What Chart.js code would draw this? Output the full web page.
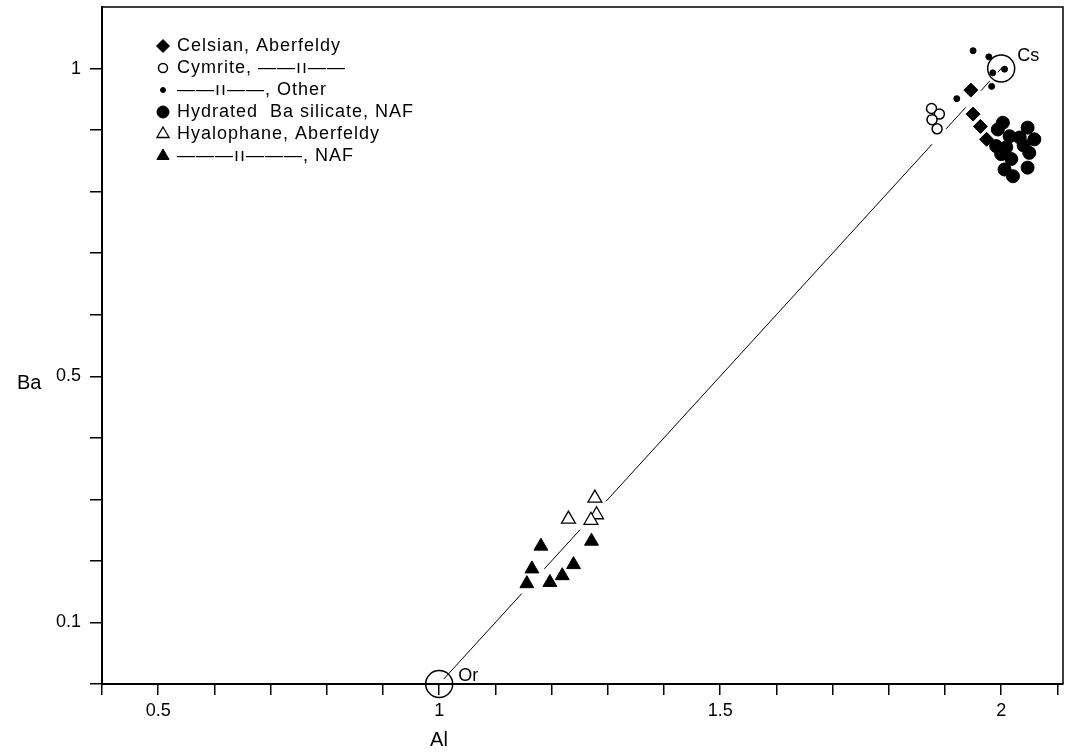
<!DOCTYPE html>
<html><head><meta charset="utf-8">
<script src="https://cdn.jsdelivr.net/npm/chart.js@4.4.1/dist/chart.umd.min.js"></script>
<style>html,body{margin:0;padding:0;background:#fff;}</style>
</head><body>
<canvas id="c" width="1065" height="756"></canvas>
<script>
// ---- data (Al, Ba) ----
const celsian = [[1.946,0.965],[1.950,0.926],[1.963,0.906],[1.974,0.885]];
const cymrite = [[1.876,0.935],[1.890,0.926],[1.877,0.917],[1.886,0.902]];
const other = [[1.950,1.029],[1.978,1.019],[2.006,0.999],[1.985,0.993],[1.983,0.971],[1.921,0.951]];
const hydrated = [[2.003,0.912],[1.994,0.901],[2.015,0.890],[2.033,0.888],[2.047,0.904],[2.059,0.885],
  [1.991,0.874],[2.009,0.872],[2.000,0.861],[2.018,0.853],[2.050,0.863],[2.006,0.836],[2.047,0.839],
  [2.021,0.825],[2.040,0.875]];
const hyalophane = [[1.277,0.302],[1.280,0.275],[1.270,0.266],[1.230,0.268]];
const nafHyalophane = [[1.181,0.224],[1.271,0.232],[1.165,0.187],[1.239,0.194],[1.219,0.176],[1.197,0.165],[1.156,0.163]];
const endMembers = [[1,0],[2,1]];
const endMemberNames = ['Or','Cs'];
// Or-Cs join, drawn in broken segments
const joinSegments = [[[1.008,0.008],[1.147,0.147]],[[1.187,0.187],[1.251,0.251]],[[1.297,0.297],[1.877,0.877]],
  [[1.902,0.902],[1.937,0.937]],[[1.964,0.964],[1.980,0.980]],[[1.994,0.994],[2.002,1.002]]];
const seriesLabels = ['Celsian, Aberfeldy','Cymrite, \u2014\u2014\u0131\u0131\u2014\u2014','\u2014\u2014\u0131\u0131\u2014\u2014, Other',
  'Hydrated  Ba silicate, NAF','Hyalophane, Aberfeldy','\u2014\u2014\u2014\u0131\u0131\u2014\u2014\u2014, NAF'];
const xTickValues = [0.4,0.5,0.6,0.7,0.8,0.9,1.0,1.1,1.2,1.3,1.4,1.5,1.6,1.7,1.8,1.9,2.0,2.1];
const xTickLabels = ['0.5','1','1.5','2'];
const yTickValues = [0,0.1,0.2,0.3,0.4,0.5,0.6,0.7,0.8,0.9,1.0];
const yTickLabels = ['0.1','0.5','1'];
const xTitle = 'Al', yTitle = 'Ba';

const FONT = '"Liberation Sans", Arial, Helvetica, sans-serif';
const pts = a => a.map(p => ({x:p[0], y:p[1]}));
const joinData = [];
joinSegments.forEach(s => { joinData.push({x:s[0][0],y:s[0][1]}); joinData.push({x:s[1][0],y:s[1][1]}); joinData.push({x:s[1][0],y:null}); });

function tickLabel(v, labels){
  for (const l of labels) if (Math.abs(parseFloat(l) - v) < 1e-6) return l;
  return '';
}

const ds = [
  {label:seriesLabels[0], data:pts(celsian), pointStyle:'rectRot', pointRadius:7, backgroundColor:'#000', borderColor:'#000', borderWidth:1, legendRadius:6.5},
  {label:seriesLabels[1], data:pts(cymrite), pointStyle:'circle', pointRadius:5, backgroundColor:'#fff', borderColor:'#000', borderWidth:1.5, legendRadius:4.5},
  {label:seriesLabels[2], data:pts(other), pointStyle:'circle', pointRadius:3, backgroundColor:'#000', borderColor:'#000', borderWidth:1, legendRadius:2.5},
  {label:seriesLabels[3], data:pts(hydrated), pointStyle:'circle', pointRadius:6.5, backgroundColor:'#000', borderColor:'#000', borderWidth:1, legendRadius:6},
  {label:seriesLabels[4], data:pts(hyalophane), pointStyle:'triangle', pointRadius:8, backgroundColor:'#fff', borderColor:'#000', borderWidth:1.3, legendRadius:7},
  {label:seriesLabels[5], data:pts(nafHyalophane), pointStyle:'triangle', pointRadius:8, backgroundColor:'#000', borderColor:'#000', borderWidth:1, legendRadius:7},
  {label:'', data:pts(endMembers), pointStyle:'circle', pointRadius:13.5, backgroundColor:'rgba(0,0,0,0)', borderColor:'#000', borderWidth:1.5, clip:false, noLegend:true},
  {label:'', type:'line', data:joinData, borderColor:'#000', borderWidth:1, pointRadius:0, spanGaps:false, showLine:true, fill:false, noLegend:true}
];

const overlay = {
  id:'overlay',
  afterDraw(chart){
    const ctx = chart.ctx, a = chart.chartArea, xs = chart.scales.x, ys = chart.scales.y;
    ctx.save();
    // frame top and right
    ctx.strokeStyle = '#000'; ctx.lineWidth = 1.5;
    ctx.beginPath(); ctx.moveTo(a.left, a.top); ctx.lineTo(a.right, a.top); ctx.lineTo(a.right, a.bottom); ctx.stroke();
    // end-member labels
    ctx.fillStyle = '#000'; ctx.textBaseline = 'middle'; ctx.textAlign = 'left';
    ctx.font = '18px ' + FONT;
    const offs = [[19,-8],[16,-13]];
    endMembers.forEach((p,i) => {
      ctx.fillText(endMemberNames[i], xs.getPixelForValue(p[0]) + offs[i][0], ys.getPixelForValue(p[1]) + offs[i][1]);
    });
    // axis titles
    ctx.font = '20px ' + FONT;
    ctx.textAlign = 'left'; ctx.fillText(yTitle, 17, 383);
    ctx.textAlign = 'center'; ctx.fillText(xTitle, 439, 740);
    ctx.restore();
    // legend
    let y = 46;
    chart.data.datasets.forEach(d => {
      if (d.noLegend) return;
      ctx.save();
      ctx.fillStyle = d.backgroundColor; ctx.strokeStyle = d.borderColor; ctx.lineWidth = d.borderWidth;
      Chart.helpers.drawPoint(ctx, {pointStyle:d.pointStyle, radius:d.legendRadius, rotation:0, borderWidth:d.borderWidth}, 163, y);
      ctx.fillStyle = '#000'; ctx.font = '18px ' + FONT; ctx.textAlign = 'left'; ctx.textBaseline = 'middle';
      try { ctx.letterSpacing = '1px'; } catch(e) {}
      ctx.fillText(d.label, 177, y);
      try { ctx.letterSpacing = '0px'; } catch(e) {}
      ctx.restore();
      y += 22;
    });
  }
};

new Chart(document.getElementById('c'), {
  type:'scatter',
  data:{datasets:ds},
  options:{
    responsive:false, animation:false, devicePixelRatio:1,
    layout:{autoPadding:false, padding:{top:7,right:2,left:0,bottom:0}},
    plugins:{legend:{display:false}, tooltip:{enabled:false}},
    scales:{
      x:{type:'linear', min:0.4, max:2.11,
        afterBuildTicks:s => { s.ticks = xTickValues.map(v => ({value:v})); },
        afterFit:s => { s.height = 72; s.paddingLeft = 0; s.paddingRight = 0; },
        ticks:{autoSkip:false, maxRotation:0, minRotation:0, padding:5, color:'#000', font:{family:FONT, size:18},
          callback:v => tickLabel(v, xTickLabels)},
        grid:{drawOnChartArea:false, drawTicks:true, tickLength:11, color:'#000', lineWidth:1.5},
        border:{display:true, color:'#000', width:2}},
      y:{type:'linear', min:0, max:1.1,
        afterBuildTicks:s => { s.ticks = yTickValues.map(v => ({value:v})); },
        afterFit:s => { s.width = 102; s.paddingTop = 0; s.paddingBottom = 0; },
        ticks:{autoSkip:false, padding:9, color:'#000', font:{family:FONT, size:18},
          callback:v => tickLabel(v, yTickLabels)},
        grid:{drawOnChartArea:false, drawTicks:true, tickLength:12, color:'#000', lineWidth:1.5},
        border:{display:true, color:'#000', width:2}}
    }
  },
  plugins:[overlay]
});
</script>
</body></html>
